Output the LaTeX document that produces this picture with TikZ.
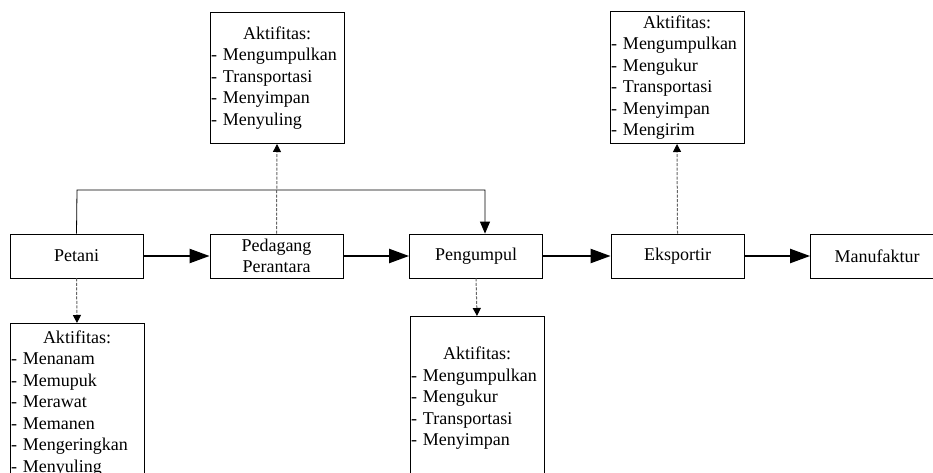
\documentclass[tikz,border=0pt]{standalone}
\usepackage{fontspec}
\setmainfont{Liberation Serif}
\usetikzlibrary{arrows.meta,positioning}

\begin{document}
\begin{tikzpicture}[x=1pt,y=-1pt,line join=miter]
\clip (0,0) rectangle (933,473);
\path[fill=white,use as bounding box] (0,0) rectangle (933,473);
\tikzset{actor/.style={draw=black,line width=0.8pt,minimum width=133pt,minimum height=44pt,inner sep=0pt,align=center,font=\fontsize{18}{21.5}\selectfont},tasks/.style={draw=black,line width=0.8pt,minimum width=134pt,inner xsep=1pt,inner ysep=0pt,text width=132pt,align=left,font=\fontsize{18}{21.5}\selectfont},flow/.style={draw=black,line width=2.2pt,-{Triangle[length=20pt,width=14pt]}},bypass/.style={draw=black,line width=0.8pt,-{Triangle[length=12pt,width=10pt]}},duty/.style={draw=black!60,line width=1pt,dash pattern=on 3pt off 1.5pt,-{Triangle[length=8pt,width=8pt,color=black]}}}
% rantai pelaku
\node[actor] (petani) at (76.5,256) {Petani};
\node[actor] (perantara) at (276.5,256) {Pedagang\\Perantara};
\node[actor] (pengumpul) at (476,256) {Pengumpul};
\node[actor] (eksportir) at (677.5,256) {Eksportir};
\node[actor] (pabrik) at (877,256) {Manufaktur};
% kotak aktifitas
\node[tasks,minimum height=131pt,anchor=south] (taskPerantara) at (277,144) {\makebox[132pt]{Aktifitas:}\\- Mengumpulkan\\- Transportasi\\- Menyimpan\\- Menyuling};
\node[tasks,minimum height=132pt,anchor=south] (taskEksportir) at (677,144) {\makebox[132pt]{Aktifitas:}\\- Mengumpulkan\\- Mengukur\\- Transportasi\\- Menyimpan\\- Mengirim};
\node[tasks,minimum height=160pt,anchor=north] (taskPetani) at (77,323) {\makebox[132pt]{Aktifitas:}\\- Menanam\\- Memupuk\\- Merawat\\- Memanen\\- Mengeringkan\\- Menyuling};
\node[tasks,minimum height=164pt,anchor=north] (taskPengumpul) at (477,316) {\makebox[132pt]{Aktifitas:}\\- Mengumpulkan\\- Mengukur\\- Transportasi\\- Menyimpan};
% aliran barang
\draw[flow] (petani) -- (perantara);
\draw[flow] (perantara) -- (pengumpul);
\draw[flow] (pengumpul) -- (eksportir);
\draw[flow] (eksportir) -- (pabrik);
\coordinate (ridge) at (77,190);
\draw[bypass] (petani.north) -- (ridge) -| ([xshift=9pt]pengumpul.north);
% aktifitas tiap pelaku
\draw[duty] (perantara.north) -- (taskPerantara.south);
\draw[duty] (eksportir.north) -- (taskEksportir.south);
\draw[duty] (petani.south) -- (taskPetani.north);
\draw[duty] (pengumpul.south) -- (taskPengumpul.north);
\end{tikzpicture}
\end{document}
